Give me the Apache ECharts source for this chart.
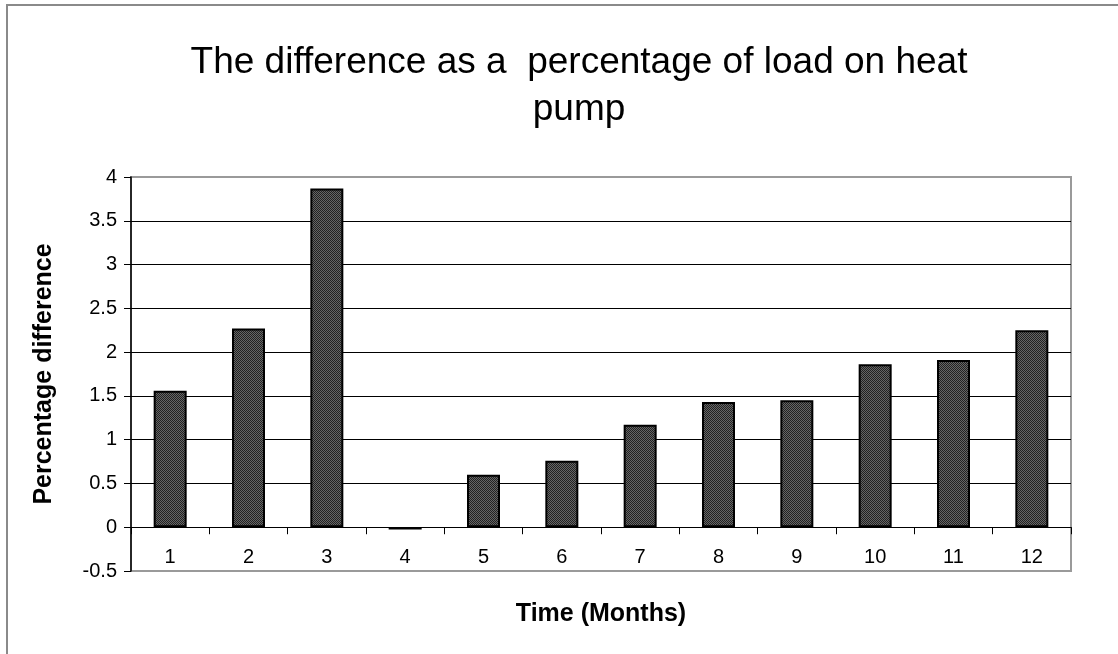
<!DOCTYPE html>
<html>
<head>
    <meta charset="utf-8">
    <title>The difference as a percentage of load on heat pump</title>
    <script src="https://cdn.jsdelivr.net/npm/echarts@6/dist/echarts.min.js"></script>
    <style>
        html, body { margin: 0; padding: 0; background: #fff; }
    </style>
</head>
<body>
<div id="main" style="width:1118px;height:654px;"></div>

<script type="text/javascript">
    // data
    var months = ['1', '2', '3', '4', '5', '6', '7', '8', '9', '10', '11', '12'];
    var percentDiff = [1.56, 2.27, 3.87, -0.025, 0.60, 0.76, 1.17, 1.43, 1.45, 1.86, 1.91, 2.25];
    var yTicks = { min: -0.5, max: 4, interval: 0.5 };

    var font = '"Liberation Sans", Arial, sans-serif';

    // small dotted fill like the old excel pattern
    function makePattern() {
        var c = document.createElement('canvas');
        c.width = 2;
        c.height = 2;
        var ctx = c.getContext('2d');
        ctx.fillStyle = '#666666';
        ctx.fillRect(0, 0, 2, 2);
        ctx.fillStyle = '#222222';
        ctx.fillRect(0, 0, 1, 1);
        ctx.fillRect(1, 1, 1, 1);
        return c;
    }

    var chart = echarts.init(document.getElementById('main'));

    var option = {
        backgroundColor: '#fff',
        animation: false,
        title: {
            text: 'The difference as a  percentage of load on heat\npump',
            left: 574,
            top: 34,
            textAlign: 'center',
            textStyle: {
                fontFamily: font,
                fontSize: 37,
                fontWeight: 'normal',
                color: '#000',
                lineHeight: 47
            }
        },
        graphic: [{
            type: 'rect',
            shape: { x: 7, y: 5, width: 1300, height: 800 },
            style: { fill: 'none', stroke: '#8a8a8a', lineWidth: 2 },
            silent: true
        }],
        grid: {
            left: 131,
            right: 47,
            top: 177,
            bottom: 83,
            outerBoundsMode: 'none',
            show: true,
            borderColor: '#9a9a9a',
            borderWidth: 2,
            backgroundColor: 'transparent'
        },
        xAxis: {
            type: 'category',
            data: months,
            name: 'Time (Months)',
            nameLocation: 'middle',
            nameGap: 31,
            nameMoveOverlap: false,
            nameTextStyle: {
                fontFamily: font,
                fontSize: 25,
                fontWeight: 'bold',
                color: '#000'
            },
            axisLine: { onZero: true, lineStyle: { color: '#000', width: 1 } },
            axisTick: { show: true, length: 7, inside: false, lineStyle: { color: '#000' } },
            axisLabel: {
                margin: -24,
                fontFamily: font,
                fontSize: 20,
                color: '#000'
            },
            splitLine: { show: false }
        },
        yAxis: {
            type: 'value',
            min: yTicks.min,
            max: yTicks.max,
            interval: yTicks.interval,
            name: 'Percentage difference',
            nameLocation: 'middle',
            nameGap: 74,
            nameTextStyle: {
                fontFamily: font,
                fontSize: 25,
                fontWeight: 'bold',
                color: '#000'
            },
            axisLine: { show: true, lineStyle: { color: '#000', width: 1.5 } },
            axisTick: { show: true, length: 7, lineStyle: { color: '#000' } },
            axisLabel: {
                margin: 14,
                fontFamily: font,
                fontSize: 20,
                color: '#000'
            },
            splitLine: {
                show: true,
                showMinLine: false,
                showMaxLine: false,
                lineStyle: { color: '#000', width: 1 }
            }
        },
        series: [{
            type: 'bar',
            data: percentDiff,
            barWidth: 33,
            itemStyle: {
                color: { image: makePattern(), repeat: 'repeat' },
                borderColor: '#000',
                borderWidth: 2
            },
            emphasis: { disabled: true }
        }]
    };

    chart.setOption(option);
</script>
</body>
</html>
